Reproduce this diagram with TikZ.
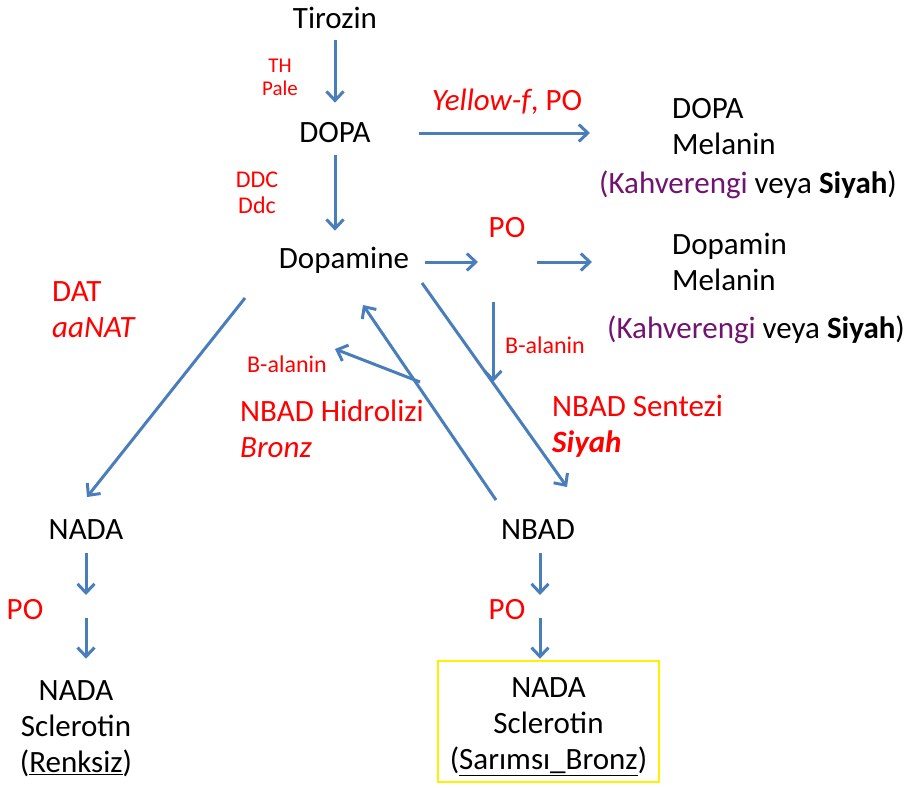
\documentclass[tikz,border=0pt]{standalone}
\usepackage{fontspec}
\setmainfont{Carlito}
\usetikzlibrary{arrows.meta}
\definecolor{flowblue}{RGB}{74,126,187}
\definecolor{darkpurple}{RGB}{112,20,112}
\definecolor{boxyellow}{RGB}{255,240,0}

\tikzset{
  flow/.style={draw=flowblue, line width=3pt, -{Straight Barb[length=9pt,width=17pt]}},
  big/.style={font=\fontsize{31}{36}\selectfont, inner sep=0pt},
  mid/.style={font=\fontsize{24}{26}\selectfont, inner sep=0pt},
  tiny/.style={font=\fontsize{21}{23}\selectfont, inner sep=0pt},
}

\begin{document}
\begin{tikzpicture}[x=1pt,y=-1pt]
\useasboundingbox (0,0) rectangle (909,787);
% main chain
\node[big] (tirozin) at (335,18) {Tirozin};
\node[big] (dopa) at (335,133) {DOPA};
\node[big] (dopamine) at (344,260) {Dopamine};
\node[big] (nada) at (86,530) {NADA};
\node[big] (nbad) at (538,530) {NBAD};
\node[big,align=center] (nadascl) at (76,729) {NADA\\Sclerotin\\(\underline{Renksiz})};
\node[big,align=center,draw=boxyellow,line width=2.5pt,minimum width=221pt,minimum height=121pt,text height=104pt,text depth=8pt] (nbadscl) at (548.5,721.5) {NADA\\Sclerotin\\(\underline{Sarımsı\_Bronz})};
% melanin products
\node[big,align=left,anchor=west] (dopamel) at (672,127) {DOPA\\Melanin};
\node[big] (dopacol) at (748,185) {{\color{darkpurple}(Kahverengi} veya \textbf{Siyah})};
\node[big,align=left,anchor=west] (dopminmel) at (672,262) {Dopamin\\Melanin};
\node[big] (dopmincol) at (756,330) {{\color{darkpurple}(Kahverengi} veya \textbf{Siyah})};
% enzymes
\node[tiny,red,align=center] (thpale) at (280,77) {TH\\Pale};
\node[mid,red,align=center] (ddc) at (257,193) {DDC\\Ddc};
\node[big,red] (yellowf) at (507,102) {\textit{Yellow-f}, PO};
\node[big,red] (podop) at (507,228) {PO};
\node[mid,red] (balright) at (545,345) {B-alanin};
\node[mid,red] (balleft) at (287,364) {B-alanin};
\node[big,red,align=left,anchor=west] (dat) at (52,310) {DAT\\\textit{aaNAT}};
\node[big,red,align=left,anchor=west] (hidroliz) at (240,429) {NBAD Hidrolizi\\\textit{Bronz}};
\node[big,red,align=left,anchor=west] (sentez) at (552,426) {NBAD Sentezi\\\textbf{\textit{Siyah}}};
\node[big,red] (ponada) at (25,610) {PO};
\node[big,red] (ponbad) at (507,610) {PO};
% junctions
\coordinate (pojct) at (507,262);
\coordinate (nadajct) at (86,607);
\coordinate (nbadjct) at (540,607);
\coordinate (leftstart) at (245,298);
\coordinate (leftend) at (87,497);
\coordinate (rightstart) at (422,283);
\coordinate (rightend) at (567,487);
\coordinate (balstart) at (493,302);
\coordinate (balend) at (493,382);
\coordinate (hidstart) at (496,500);
\coordinate (hidend) at (363,305);
\coordinate (hidfork) at (420,382);
\coordinate (hidbal) at (335,349);
% arrows
\draw[flow,shorten <=11pt,shorten >=20pt] (tirozin) -- (dopa);
\draw[flow,shorten <=12pt,shorten >=16pt] (dopa.south) -- (dopa.south |- dopamine.north);
\draw[flow,shorten <=48pt,shorten >=82pt] (dopa.east) -- (dopa.east -| dopamel.west);
\draw[flow,shorten <=16pt,shorten >=29pt] (dopamine.east |- pojct) -- (pojct);
\draw[flow,shorten <=30pt,shorten >=80pt] (pojct) -- (pojct -| dopminmel.west);
\draw[flow] (leftstart) -- (leftend);
\draw[flow] (rightstart) -- (rightend);
\draw[flow] (balstart) -- (balend);
\draw[flow] (hidstart) -- (hidend);
\draw[flow] (hidfork) -- (hidbal);
\draw[flow,shorten <=13pt,shorten >=12pt] (nada.south) -- (nadajct);
\draw[flow,shorten <=11pt,shorten >=22pt] (nadajct) -- (nadajct |- nadascl.north);
\draw[flow,shorten <=13pt,shorten >=12pt] (nbadjct |- nbad.south) -- (nbadjct);
\draw[flow,shorten <=11pt,shorten >=1pt] (nbadjct) -- (nbadjct |- nbadscl.north);
\end{tikzpicture}
\end{document}
